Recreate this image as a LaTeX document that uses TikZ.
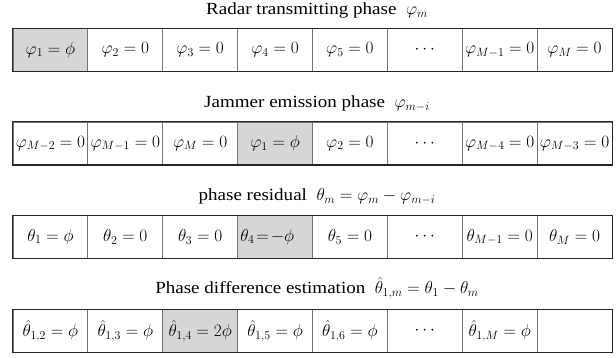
\documentclass[tikz,border=0pt]{standalone}
\usepackage{fontspec}
\setmainfont[FakeStretch=1.12]{Liberation Serif}
\begin{document}
\begin{tikzpicture}[x=1pt,y=-1pt,
  cell/.style={draw=black!55, line width=0.8pt, minimum width=74.875pt, minimum height=42.5pt, inner sep=0pt, font=\fontsize{17}{20}\selectfont},
  shaded/.style={cell, fill=black!16},
  frame/.style={draw=black!85, line width=1.3pt},
  title/.style={anchor=base, inner sep=0pt, font=\fontsize{17}{20}\selectfont}]
\useasboundingbox (0,0) rectangle (616,358);
% Row 1
\node[title] (t1) at (317,15) {Radar transmitting phase~ $\varphi_m$};
\node[shaded] (a1) at (50.44,50) {$\varphi_1=\phi$};
\node[cell] (a2) at (125.31,50) {$\varphi_2=0$};
\node[cell] (a3) at (200.19,50) {$\varphi_3=0$};
\node[cell] (a4) at (275.06,50) {$\varphi_4=0$};
\node[cell] (a5) at (349.94,50) {$\varphi_5=0$};
\node[cell] (a6) at (424.81,50) {$\cdots$};
\node[cell] (a7) at (499.69,50) {$\varphi_{M-1}=0$};
\node[cell] (a8) at (574.56,50) {$\varphi_M=0$};
\draw[frame] (a1.north west) rectangle (a8.south east);
% Row 2
\node[title] (t2) at (317,108) {Jammer emission phase~ $\varphi_{m-i}$};
\node[cell] (b1) at (50.44,143.5) {$\varphi_{M-2}=0$};
\node[cell] (b2) at (125.31,143.5) {$\varphi_{M-1}=0$};
\node[cell] (b3) at (200.19,143.5) {$\varphi_M=0$};
\node[shaded] (b4) at (275.06,143.5) {$\varphi_1=\phi$};
\node[cell] (b5) at (349.94,143.5) {$\varphi_2=0$};
\node[cell] (b6) at (424.81,143.5) {$\cdots$};
\node[cell] (b7) at (499.69,143.5) {$\varphi_{M-4}=0$};
\node[cell] (b8) at (574.56,143.5) {$\varphi_{M-3}=0$};
\draw[frame] (b1.north west) rectangle (b8.south east);
% Row 3
\node[title] (t3) at (317,201) {phase residual~ $\theta_m=\varphi_m-\varphi_{m-i}$};
\node[cell] (c1) at (50.44,237) {$\theta_1=\phi$};
\node[cell] (c2) at (125.31,237) {$\theta_2=0$};
\node[cell] (c3) at (200.19,237) {$\theta_3=0$};
\node[shaded] (c4) at (275.06,237) {};
\node[anchor=west, inner sep=0pt, font=\fontsize{17}{20}\selectfont] (c4t) at (c4.west) {\,$\theta_4\!=\!-\phi$};
\node[cell] (c5) at (349.94,237) {$\theta_5=0$};
\node[cell] (c6) at (424.81,237) {$\cdots$};
\node[cell] (c7) at (499.69,237) {$\theta_{M-1}=0$};
\node[cell] (c8) at (574.56,237) {$\theta_M=0$};
\draw[frame] (c1.north west) rectangle (c8.south east);
% Row 4
\node[title] (t4) at (317,294) {Phase difference estimation~ $\hat{\theta}_{1,m}=\theta_1-\theta_m$};
\node[cell] (d1) at (50.44,331) {$\hat{\theta}_{1,2}=\phi$};
\node[cell] (d2) at (125.31,331) {$\hat{\theta}_{1,3}=\phi$};
\node[shaded] (d3) at (200.19,331) {$\hat{\theta}_{1,4}=2\phi$};
\node[cell] (d4) at (275.06,331) {$\hat{\theta}_{1,5}=\phi$};
\node[cell] (d5) at (349.94,331) {$\hat{\theta}_{1,6}=\phi$};
\node[cell] (d6) at (424.81,331) {$\cdots$};
\node[cell] (d7) at (499.69,331) {$\hat{\theta}_{1,M}=\phi$};
\node[cell] (d8) at (574.56,331) {};
\draw[frame] (d1.north west) rectangle (d8.south east);
\end{tikzpicture}
\end{document}
